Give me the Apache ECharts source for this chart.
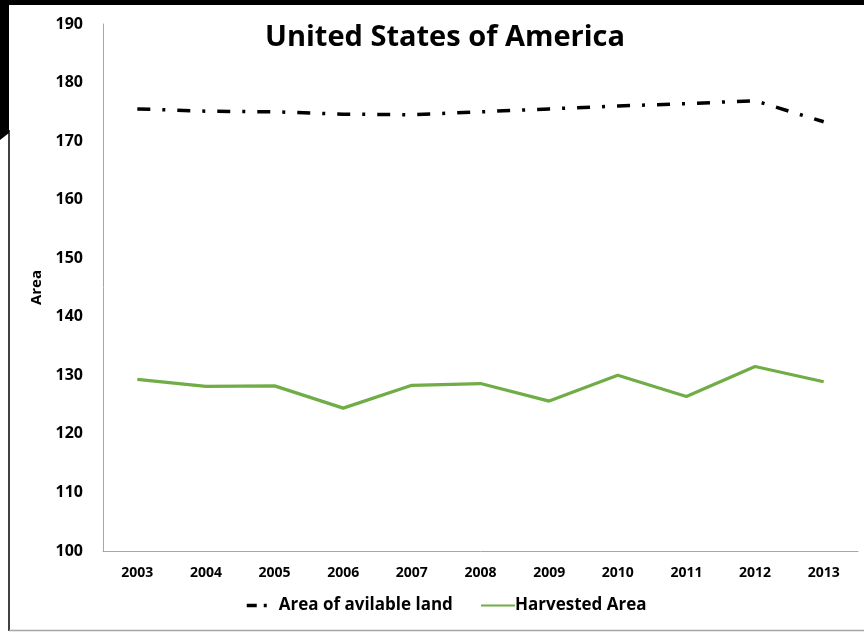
<!DOCTYPE html>
<html><head><meta charset="utf-8">
<script src="https://cdn.jsdelivr.net/npm/echarts@6/dist/echarts.min.js"></script>
<style>html,body{margin:0;padding:0;background:#fff}#c{width:864px;height:632px}</style>
</head><body><div id="c"></div>
<script>
const years = ['2003','2004','2005','2006','2007','2008','2009','2010','2011','2012','2013'];
const availableLand = [175.5, 175.1, 175.0, 174.6, 174.5, 175.0, 175.5, 176.0, 176.4, 176.9, 173.3];
const harvestedArea = [129.3, 128.1, 128.2, 124.4, 128.3, 128.6, 125.6, 130.0, 126.4, 131.5, 128.9];
const titleText = 'United States of America';
const yName = 'Area';
const seriesNames = ['Area of avilable land', 'Harvested Area'];

const chart = echarts.init(document.getElementById('c'));
const F = '"Open Sans", Lato, sans-serif';
const legendText = {fontFamily: F, fontWeight: 'bold', fontSize: 17, color: '#000'};
chart.setOption({
  animation: false,
  backgroundColor: '#fff',
  title: {
    text: titleText, left: 440, top: 18, textAlign: 'center',
    textStyle: {fontFamily: F, fontWeight: 'bold', fontSize: 29, color: '#000'}
  },
  grid: {left: 103, right: 6, top: 24, bottom: 81},
  legend: [
    {
      left: 240, bottom: 13, itemWidth: 22, itemHeight: 10,
      textStyle: Object.assign({padding: [0, 0, 0, 5]}, legendText),
      itemStyle: {opacity: 0},
      lineStyle: {type: [10, 7, 3, 7], width: 3.5},
      data: [seriesNames[0]]
    },
    {
      left: 475, bottom: 13, itemWidth: 34, itemHeight: 10,
      textStyle: Object.assign({padding: [0, 0, 0, -5]}, legendText),
      itemStyle: {opacity: 0},
      data: [seriesNames[1]]
    }
  ],
  xAxis: {
    type: 'category', data: years, boundaryGap: true,
    axisLine: {lineStyle: {color: '#a6a6a6', width: 1}},
    axisTick: {show: false},
    axisLabel: {fontFamily: F, fontWeight: 'bold', fontSize: 14, color: '#000', margin: 15}
  },
  yAxis: {
    type: 'value', min: 100, max: 190, interval: 10,
    name: yName, nameLocation: 'middle', nameGap: 55, nameRotate: 90,
    nameTextStyle: {fontFamily: F, fontWeight: 'bold', fontSize: 15, color: '#000'},
    axisLine: {show: true, lineStyle: {color: '#a6a6a6', width: 1}},
    axisTick: {show: false},
    splitLine: {show: false},
    axisLabel: {fontFamily: F, fontWeight: 'bold', fontSize: 16, color: '#000', margin: 20}
  },
  series: [
    {name: seriesNames[0], type: 'line', data: availableLand, symbol: 'none',
     lineStyle: {color: '#000', width: 3.5, type: [13, 12, 3, 12], cap: 'butt'},
     itemStyle: {color: '#000'}},
    {name: seriesNames[1], type: 'line', data: harvestedArea, symbol: 'none',
     lineStyle: {color: '#70ad47', width: 3.2},
     itemStyle: {color: '#70ad47'}}
  ],
  graphic: [
    {type: 'rect', shape: {x: 0, y: 0, width: 864, height: 5}, style: {fill: '#000'}},
    {type: 'polygon', shape: {points: [[0,0],[9,0],[9,133],[0,140]]}, style: {fill: '#000'}},
    {type: 'line', shape: {x1: 9, y1: 130, x2: 9, y2: 631}, style: {stroke: '#000', lineWidth: 1.5}},
    {type: 'line', shape: {x1: 9, y1: 630.5, x2: 864, y2: 630.5}, style: {stroke: '#a6a6a6', lineWidth: 1.5}}
  ]
});
</script></body></html>
